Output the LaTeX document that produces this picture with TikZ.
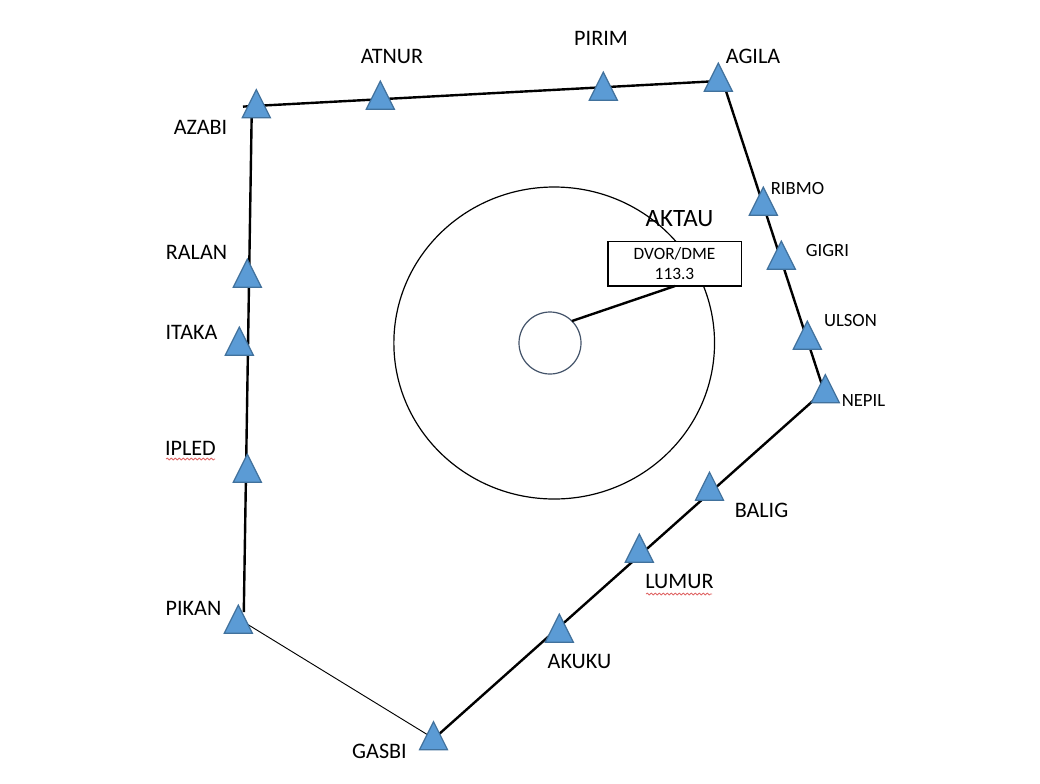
\documentclass[tikz,border=0pt]{standalone}
\usepackage{fontspec}
\setmainfont{Carlito}
\usetikzlibrary{shapes.geometric,decorations.pathmorphing}
\definecolor{triFill}{HTML}{5B9BD5}
\definecolor{triLine}{HTML}{41719C}
\definecolor{slate}{HTML}{44546A}
\definecolor{spell}{HTML}{E06666}
\tikzset{
  wpt/.style={draw=triLine,fill=triFill,line width=0.9pt,isosceles triangle,isosceles triangle stretches,
    shape border rotate=90,minimum width=21pt,minimum height=21pt,inner sep=0pt,outer sep=0pt},
  lab/.style={font=\fontsize{16.6}{16.6}\selectfont,inner sep=0pt,text=black},
  labs/.style={font=\fontsize{14}{14}\selectfont,inner sep=0pt,text=black},
  route/.style={line width=1.8pt,draw=black},
  thinroute/.style={line width=0.7pt,draw=black},
  squig/.style={draw=spell,line width=0.6pt,decorate,decoration={snake,amplitude=0.7pt,segment length=3pt}}
}
\begin{document}
\begin{tikzpicture}[x=0.75pt,y=-0.75pt]
\useasboundingbox (0,0) rectangle (1040,783);
\fill[white] (0,0) rectangle (1040,783);
% circles
\node[draw=black,line width=0.9pt,ellipse,minimum width=240.5pt,minimum height=234pt,inner sep=0pt] (outer) at (554.2,343) {};
\node[draw=slate,line width=0.9pt,fill=white,circle,minimum size=46.5pt,inner sep=0pt] (inner) at (550,343) {};
% anchors
\coordinate (cAZ) at (243,106.6);
\coordinate (cAZb) at (251.8,107);
\coordinate (cAG) at (719,81);
\coordinate (cAGb) at (724,85);
\coordinate (cNE) at (822,385);
\coordinate (cNEb) at (824,391);
\coordinate (cGA) at (438,735);
\coordinate (cPI) at (243.8,612);
\coordinate (cPIb) at (247,624);
\coordinate (cGAb) at (428,735);
\coordinate (cIN) at (572,321);
\coordinate (cBO) at (675,286);
% box
\node[draw=black,line width=1pt,fill=white,minimum width=100pt,minimum height=33.5pt,inner sep=0pt,align=center,
  font=\fontsize{13}{15}\selectfont] (box) at (674.5,263.5) {DVOR/DME\\113.3};
% connectors
\draw[route] (cAZ) -- (cAG);
\draw[route] (cAGb) -- (cNE);
\draw[route] (cNEb) -- (cGA);
\draw[route] (cPI) -- (cAZb);
\draw[thinroute] (cPIb) -- (cGAb);
\draw[route] (cIN) -- (cBO);
% waypoints
\node[wpt] (AZABI) at (256.3,109) {};
\node[wpt] (ATNUR) at (380.3,100.5) {};
\node[wpt] (PIRIM) at (603.3,91.5) {};
\node[wpt] (AGILA) at (718.3,82.5) {};
\node[wpt] (RIBMO) at (763.3,206.5) {};
\node[wpt] (GIGRI) at (781.3,260.5) {};
\node[wpt] (ULSON) at (807.3,340.5) {};
\node[wpt] (NEPIL) at (825.3,394) {};
\node[wpt] (BALIG) at (709.5,491.5) {};
\node[wpt] (LUMUR) at (639.3,553.5) {};
\node[wpt] (AKUKU) at (559.3,633.5) {};
\node[wpt] (GASBI) at (433.5,741) {};
\node[wpt] (PIKAN) at (238.3,624.5) {};
\node[wpt] (IPLED) at (247.3,473.5) {};
\node[wpt] (ITAKA) at (239.3,346.5) {};
\node[wpt] (RALAN) at (247.3,278.5) {};
% labels
\node[lab] (tAZABI) at (200.5,127) {AZABI};
\node[lab] (tATNUR) at (392,56) {ATNUR};
\node[lab] (tPIRIM) at (601,38) {PIRIM};
\node[lab] (tAGILA) at (753,56) {AGILA};
\node[labs] (tRIBMO) at (797.5,188.5) {RIBMO};
\node[labs] (tGIGRI) at (827.5,250) {GIGRI};
\node[labs] (tULSON) at (850.5,321) {ULSON};
\node[labs] (tNEPIL) at (863.5,401) {NEPIL};
\node[lab] (tBALIG) at (761.5,510) {BALIG};
\node[lab] (tLUMUR) at (679.5,581) {LUMUR};
\node[lab] (tAKUKU) at (579.5,661) {AKUKU};
\node[lab] (tGASBI) at (379.5,751) {GASBI};
\node[lab] (tPIKAN) at (193.5,608) {PIKAN};
\node[lab] (tIPLED) at (190.5,448) {IPLED};
\node[lab] (tITAKA) at (191.5,332) {ITAKA};
\node[lab] (tRALAN) at (196.5,252) {RALAN};
\node[font=\fontsize{18.7}{18.7}\selectfont,inner sep=0pt,text=black] (tAKTAU) at (679.5,219) {AKTAU};
% spell marks
\draw[squig] (166,459) -- (215,459);
\draw[squig] (646,594) -- (712,594);
\end{tikzpicture}
\end{document}
